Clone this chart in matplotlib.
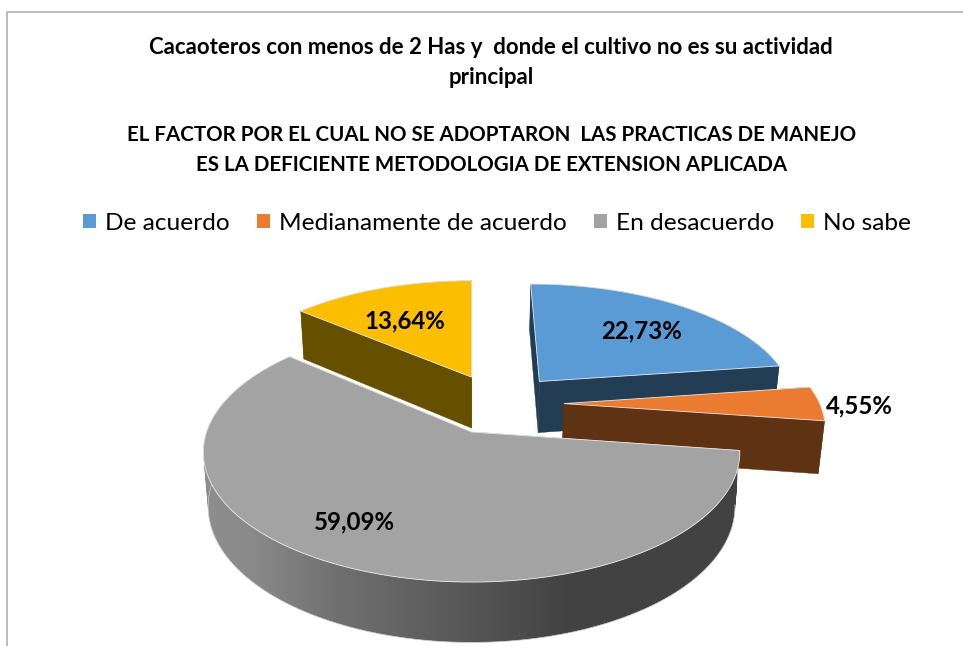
import numpy as np
import matplotlib
matplotlib.use("Agg")
import matplotlib.pyplot as plt
from matplotlib.patches import Polygon, Rectangle, Patch, PathPatch
from matplotlib.path import Path
from matplotlib.colors import LinearSegmentedColormap

# ---- data ----
categories = ["De acuerdo", "Medianamente de acuerdo", "En desacuerdo", "No sabe"]
percentages = [22.73, 4.55, 59.09, 13.64]
value_labels = ["22,73%", "4,55%", "59,09%", "13,64%"]
title_top = ["Cacaoteros con menos de 2 Has y  donde el cultivo no es su actividad", "principal"]
title_bottom = ["EL FACTOR POR EL CUAL NO SE ADOPTARON  LAS PRACTICAS DE MANEJO",
                "ES LA DEFICIENTE METODOLOGIA DE EXTENSION APLICADA"]

# ---- style / layout ----
top_colors = ["#5B9BD5", "#EB7B30", "#A3A3A3", "#FBBE00"]
wall_colors = ["#233D55", "#5F3214", "#A3A3A3", "#655000"]
label_xy = [(642, 331), (859, 406), (354, 522), (405, 321)]
draw_order = [3, 0, 1, 2]
EXPLODE = 0.255
CENTER = (0.108, 0.232)
CX, CY, RX, RY, P = 471, 432, 265, 126.8, 0.155

plt.rcParams["font.family"] = "Lato"
fig = plt.figure(figsize=(9.63, 6.46), dpi=100)
ax = fig.add_axes([0, 0, 1, 1])
ax.set_xlim(0, 963)
ax.set_ylim(646, 0)
ax.axis("off")


def project(X, Y):
    d = 1 + P * Y
    return CX + RX * X / d, CY - RY * Y / d


def drop(px, py):
    return CX + (px - CX) * 0.982, py + 48 + (py - 313) * 0.046


def strip_path(x0, y0, x1, y1):
    """Ruled side surface as one compound path of equally oriented quads."""
    paths = []
    for j in range(len(x0) - 1):
        q = np.array([[x0[j], y0[j]], [x0[j + 1], y0[j + 1]], [x1[j + 1], y1[j + 1]], [x1[j], y1[j]]])
        x, y = q[:, 0], q[:, 1]
        if np.sum(x * np.roll(y, -1) - y * np.roll(x, -1)) < 0:
            q = q[::-1]
        paths.append(Path(np.vstack([q, q[:1]]), closed=True))
    return Path.make_compound_path(*paths)


ax.add_patch(Rectangle((7, 12), 1000, 700, fc="white", ec="#A9A9A9", lw=1.1, zorder=0))

fractions = np.array(percentages) / sum(percentages)
edges = np.concatenate([[0], np.cumsum(fractions)]) * 2 * np.pi
edge_col = "#E8E8E8"
z = 1
for i in draw_order:
    a0, a1 = edges[i], edges[i + 1]
    mid = (a0 + a1) / 2
    ox = CENTER[0] + EXPLODE * np.sin(mid)
    oy = CENTER[1] + EXPLODE * np.cos(mid)
    th = np.linspace(a0, a1, 240)
    ax_, ay_ = project(ox + np.sin(th), oy + np.cos(th))
    apex = project(ox, oy)
    bax, bay = drop(ax_, ay_)
    bapex = drop(*apex)

    def radial_walls(z):
        for k in (0, -1):
            wall = [apex, (ax_[k], ay_[k]), (bax[k], bay[k]), bapex]
            ax.add_patch(Polygon(wall, closed=True, fc=wall_colors[i], ec=wall_colors[i], lw=0.3, zorder=z))
            z += 1
        return z

    if i == 2:
        z = radial_walls(z)
    side = strip_path(ax_, ay_, bax, bay)
    if i == 2:
        clip = PathPatch(side, fc="none", ec="none", zorder=z)
        ax.add_patch(clip)
        stops = [(0.0, "#8E8E8E"), (0.09, "#8A8A8A"), (0.25, "#707070"),
                 (0.50, "#565656"), (0.68, "#434343"), (1.0, "#424242")]
        cmap = LinearSegmentedColormap.from_list("wall", stops)
        im = ax.imshow(np.linspace(0, 1, 256)[None, :], cmap=cmap, aspect="auto",
                       extent=(203, 737, 650, 300), zorder=z)
        im.set_clip_path(clip)
        ax.set_xlim(0, 963)
        ax.set_ylim(646, 0)
        ax.plot(bax, bay, color="#CFCFCF", lw=0.5, zorder=z + 1)
    else:
        ax.add_patch(PathPatch(side, fc=wall_colors[i], ec="none", zorder=z))
    z += 2
    if i != 2:
        z = radial_walls(z)
    top = np.vstack([[apex], np.column_stack([ax_, ay_])])
    ax.add_patch(Polygon(top, closed=True, fc=top_colors[i], ec=edge_col, lw=0.6, zorder=z))
    z += 1

for (x, y), txt in zip(label_xy, value_labels):
    ax.text(x, y, txt, ha="center", va="center", fontsize=17.3, fontweight="bold",
            color="black", zorder=z + 1)

for y, line in zip((48, 78), title_top):
    ax.text(491, y, line, ha="center", va="center", fontsize=16.0, fontweight="bold", color="black", zorder=z + 1)
for y, line in zip((135, 165), title_bottom):
    ax.text(492, y, line, ha="center", va="center", fontsize=14.8, fontweight="bold", color="black", zorder=z + 1)

handles = [Patch(fc=c, ec="none") for c in top_colors]
ax.legend(handles, categories, ncol=4, frameon=False, loc="center",
          bbox_to_anchor=(497, 223), bbox_transform=ax.transData,
          fontsize=17.6, handlelength=0.53, handleheight=0.53,
          handletextpad=0.36, columnspacing=1.12, borderpad=0, borderaxespad=0)

fig.savefig("out.png", dpi=100)
